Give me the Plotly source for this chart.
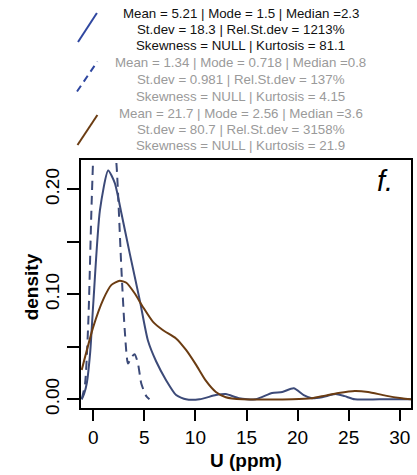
import plotly.graph_objects as go

# ---- data ----
solid_x = [-1.13, -0.9, -0.64, -0.3, 0.0, 0.65, 1.46, 2.11, 2.76, 3.57, 4.54, 5.35, 6.16, 7.14, 8.11, 9.08,
           10.4, 12.0, 12.97, 14.27, 15.9, 17.5, 18.5, 19.62, 20.6, 21.4, 22.4, 23.7, 24.6, 25.6, 28.0, 31.1]
solid_y = [0.0, 0.005, 0.015, 0.045, 0.091, 0.180, 0.218, 0.206, 0.177, 0.139, 0.095, 0.056, 0.036, 0.018, 0.004, 0.0,
           0.0, 0.004, 0.005, 0.001, 0.0, 0.006, 0.007, 0.0105, 0.004, 0.001, 0.002, 0.005, 0.003, 0.0, 0.0, 0.0]

dashed_x = [-1.13, -0.8, -0.48, -0.16, 0.2, 0.7, 1.2, 1.8, 2.3, 2.76, 3.08, 3.4, 3.73, 4.05, 4.38, 4.7, 5.19, 5.5]
dashed_y = [0.0, 0.015, 0.075, 0.187, 0.28, 0.34, 0.33, 0.28, 0.22, 0.123, 0.066, 0.034, 0.040, 0.043, 0.034, 0.015, 0.003, 0.0]

brown_x = [-1.13, 0.0, 0.97, 1.78, 2.59, 3.24, 4.05, 4.86, 5.83, 6.8, 8.1, 9.08, 10.05, 11.0, 12.0, 12.97,
           14.6, 19.5, 21.4, 22.7, 24.0, 25.6, 26.9, 28.6, 30.2, 31.1]
brown_y = [0.028, 0.069, 0.095, 0.109, 0.113, 0.111, 0.101, 0.088, 0.074, 0.066, 0.058, 0.047, 0.033, 0.018, 0.007, 0.002,
           0.0, 0.0, 0.001, 0.0035, 0.006, 0.008, 0.007, 0.0035, 0.001, 0.0]

x_ticks = [0, 5, 10, 15, 20, 25, 30]
y_ticks = [0.0, 0.05, 0.10, 0.15, 0.20]
y_ticklabels = ["0.00", "", "0.10", "", "0.20"]

legend_lines = [
    ["Mean = 5.21 | Mode = 1.5 | Median =2.3", "St.dev = 18.3 | Rel.St.dev = 1213%", "Skewness = NULL | Kurtosis = 81.1"],
    ["Mean = 1.34 | Mode = 0.718 | Median =0.8", "St.dev = 0.981 | Rel.St.dev = 137%", "Skewness = NULL | Kurtosis = 4.15"],
    ["Mean = 21.7 | Mode = 2.56 | Median =3.6", "St.dev = 80.7 | Rel.St.dev = 3158%", "Skewness = NULL | Kurtosis = 21.9"],
]
legend_text_colors = ["#111111", "#9a9a9a", "#9a9a9a"]

BLUE = "#3c4a78"
BROWN = "#6b3c12"
FONT = "Liberation Sans, Arial, sans-serif"

# ---- layout geometry (pixels) ----
W, H = 417, 475
L, R, T, B = 81, 413, 160, 408


def px_x(p):
    return (p - L) / (R - L)


def px_y(p):
    return (B - p) / (B - T)


fig = go.Figure()
fig.add_trace(go.Scatter(x=solid_x, y=solid_y, mode="lines", line=dict(color=BLUE, width=2, shape="spline", smoothing=0.6)))
fig.add_trace(go.Scatter(x=dashed_x, y=dashed_y, mode="lines",
                         line=dict(color=BLUE, width=2, dash="9px,6px", shape="spline", smoothing=0.6)))
fig.add_trace(go.Scatter(x=brown_x, y=brown_y, mode="lines", line=dict(color=BROWN, width=2, shape="spline", smoothing=0.6)))

annotations = []
# legend text
line_y = [13.3, 29.6, 46, 62.7, 79.5, 96.2, 113, 129.3, 145.5]
k = 0
for bi, block in enumerate(legend_lines):
    for ln in block:
        annotations.append(dict(x=px_x(241.5), y=px_y(line_y[k]), xref="paper", yref="paper",
                                text=ln, showarrow=False, xanchor="center", yanchor="middle",
                                font=dict(family=FONT, size=13.3, color=legend_text_colors[bi])))
        k += 1

# axis titles and panel label
annotations.append(dict(x=px_x(247), y=px_y(460), xref="paper", yref="paper", text="<b>U (ppm)</b>",
                        showarrow=False, xanchor="center", yanchor="middle",
                        font=dict(family=FONT, size=19, color="#000")))
annotations.append(dict(x=px_x(31), y=px_y(287), xref="paper", yref="paper", text="<b>density</b>",
                        showarrow=False, xanchor="center", yanchor="middle", textangle=-90,
                        font=dict(family=FONT, size=19, color="#000")))
annotations.append(dict(x=px_x(387), y=px_y(181), xref="paper", yref="paper", text="<i>f.</i>",
                        showarrow=False, xanchor="center", yanchor="middle",
                        font=dict(family=FONT, size=29, color="#000")))

# legend key segments (diagonal, as in the reference)
shapes = [
    dict(type="line", xref="paper", yref="paper", x0=px_x(78), y0=px_y(42), x1=px_x(97), y1=px_y(13),
         line=dict(color="#2f47a0", width=2)),
    dict(type="line", xref="paper", yref="paper", x0=px_x(77), y0=px_y(91.5), x1=px_x(97.5), y1=px_y(61.5),
         line=dict(color="#2f47a0", width=2, dash="7px,5px")),
    dict(type="line", xref="paper", yref="paper", x0=px_x(77.5), y0=px_y(145), x1=px_x(97.5), y1=px_y(115),
         line=dict(color=BROWN, width=2)),
]

fig.update_layout(
    width=W, height=H,
    margin=dict(l=L, r=W - R, t=T, b=H - B, pad=0),
    paper_bgcolor="white", plot_bgcolor="white",
    showlegend=False,
    font=dict(family=FONT, color="#000"),
    annotations=annotations,
    shapes=shapes,
    xaxis=dict(range=[-1.2, 31.1], tickvals=x_ticks, ticktext=[str(v) for v in x_ticks],
               showgrid=False, zeroline=False, showline=True, mirror=True, linecolor="#000", linewidth=2,
               ticks="outside", ticklen=11, tickwidth=2, tickcolor="#000",
               tickfont=dict(family=FONT, size=19, color="#000")),
    yaxis=dict(range=[-0.0083, 0.228], tickvals=y_ticks, ticktext=y_ticklabels, tickangle=-90,
               showgrid=False, zeroline=False, showline=True, mirror=True, linecolor="#000", linewidth=2,
               ticks="outside", ticklen=12, tickwidth=2, tickcolor="#000",
               tickfont=dict(family=FONT, size=19, color="#000")),
)

fig.write_html("out.html", config={"displayModeBar": False},
               post_script="document.body.style.margin='0';document.body.style.overflow='hidden';")
